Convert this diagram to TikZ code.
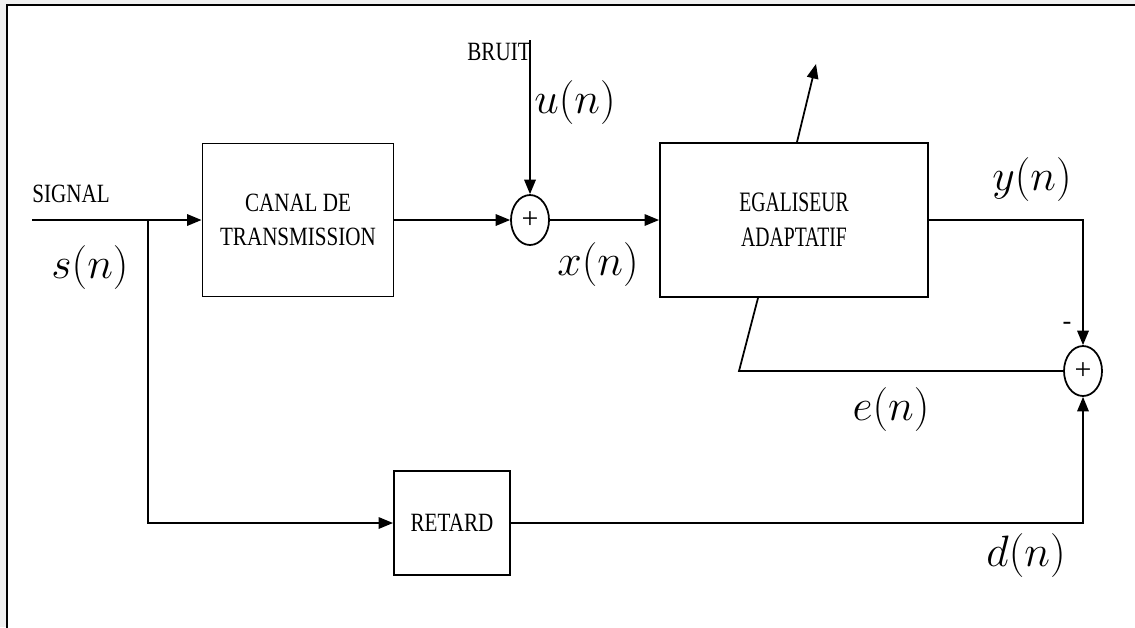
\RequirePackage{fix-cm}
\documentclass[tikz,border=0pt]{standalone}
\usepackage[no-math]{fontspec}
\setmainfont{Liberation Serif}
\usetikzlibrary{arrows.meta,shapes.geometric,calc}
\newcommand{\serre}[2][0.8]{\scalebox{#1}[1]{#2}}

\begin{document}
\begin{tikzpicture}[
    x=0.02cm, y=-0.02cm,
    bloc/.style={draw, line width=1.1pt, inner sep=0pt, align=center, font=\fontsize{15}{19}\selectfont},
    somme/.style={draw, ellipse, line width=1pt, minimum width=0.76cm, minimum height=1cm, inner sep=0pt, font=\fontsize{17}{17}\selectfont},
    fleche/.style={-{Triangle[length=2.9mm,width=2.3mm]}, line width=1pt},
    ligne/.style={line width=1pt},
    etiq/.style={font=\fontsize{15}{17}\selectfont, inner sep=0pt},
    signal/.style={font=\fontsize{25}{30}\selectfont, inner sep=0pt}
]
  \useasboundingbox (0,0) rectangle (1135,627);
  \fill[black!6] (0,0) rectangle (1135,627);
  \fill[white] (7,5) rectangle (1145,640);
  \draw[line width=1.4pt] (7,640) -- (7,5) -- (1145,5);

  \node[bloc, minimum width=3.82cm, minimum height=3.06cm] (canal) at (298,220) {\serre{CANAL DE}\\\serre{TRANSMISSION}};
  \node[bloc, minimum width=5.36cm, minimum height=3.08cm, font=\fontsize{16}{20}\selectfont] (egal) at (794,220) {\serre[0.7]{EGALISEUR}\\\serre[0.7]{ADAPTATIF}};
  \node[bloc, minimum width=2.32cm, minimum height=2.08cm] (retard) at (452,523) {\serre{RETARD}};
  \node[somme] (som1) at (530,220) {+};
  \node[somme] (som2) at (1083,371) {+};

  \coordinate (entree) at (32,220);
  \coordinate (branche) at (148,220);
  \coordinate (bruit) at (530,40);
  \coordinate (retour) at (739,371);
  \coordinate (reglage) at (816,64);

  \draw[fleche] (entree) -- (canal);
  \draw[fleche] (canal) -- (som1);
  \draw[fleche] (bruit) -- (som1);
  \draw[fleche] (som1) -- (egal);
  \draw[fleche] (egal) -| (som2);
  \draw[fleche] (branche) |- (retard);
  \draw[fleche] (retard) -| (som2);
  \draw[ligne] (som2) -- (retour) -- ($(egal.south)+(-36,0)$);
  \draw[fleche] ($(egal.north)+(3,0)$) -- (reglage);

  \node[etiq, anchor=base west] (lsignal) at (32,202) {\serre{SIGNAL}};
  \node[etiq, anchor=base east] (lbruit) at (531,60) {\serre{BRUIT}};
  \node[etiq] (lmoins) at (1067,326) {-};
  \node[signal] (ls) at (90,268) {$s(n)$};
  \node[signal] (lu) at (575,103) {$u(n)$};
  \node[signal] (lx) at (598,265) {$x(n)$};
  \node[signal] (ly) at (1032,180) {$y(n)$};
  \node[signal] (le) at (891,410) {$e(n)$};
  \node[signal] (ld) at (1026,556) {$d(n)$};
\end{tikzpicture}
\end{document}
